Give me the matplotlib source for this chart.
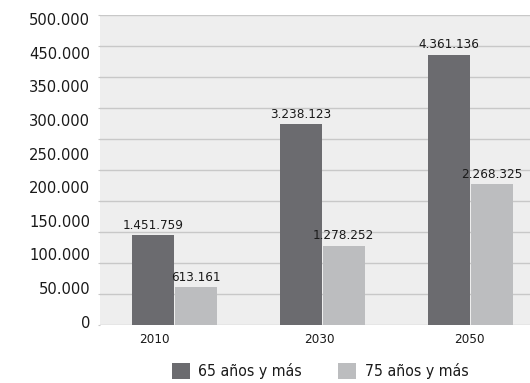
import matplotlib
matplotlib.use("Agg")
import matplotlib.pyplot as plt
import matplotlib.transforms as mtransforms
from matplotlib.patches import Patch
import numpy as np

# Population aged 65+ and 75+ by year
years = ["2010", "2030", "2050"]
pop_65 = [1451759, 3238123, 4361136]
pop_75 = [613161, 1278252, 2268325]
series_names = ["65 años y más", "75 años y más"]
ytick_labels = ["500.000", "450.000", "350.000", "300.000", "250.000",
                "200.000", "150.000", "100.000", "50.000", "0"]

DARK = "#6b6b6f"
LIGHT = "#bcbdbf"
BG = "#eeeeee"
GRID = "#c8c8c8"
TXT = "#1a1a1a"

cond = dict(family="DejaVu Sans", stretch="condensed")

fig = plt.figure(figsize=(5.30, 3.83), dpi=100)
ax = fig.add_axes([100 / 530, 58 / 383, 444 / 530, 310 / 383])
ax.set_facecolor(BG)

x = np.arange(len(years))
w = 0.284
b65 = ax.bar(x - 0.141, pop_65, width=w, color=DARK, zorder=3)
b75 = ax.bar(x + 0.147, pop_75, width=w, color=LIGHT, zorder=3)

ax.set_xlim(-0.5, len(years) - 0.5)
ax.set_ylim(0, 5_000_000)

# horizontal grid
ax.set_yticks(np.arange(0, 5_000_001, 500_000))
ax.yaxis.grid(True, color=GRID, linewidth=1.0, zorder=0)
ax.tick_params(axis="y", length=1.6, color=GRID, labelleft=False)
for s in ax.spines.values():
    s.set_visible(False)

# value axis labels, evenly spread down the left side
pos = np.linspace(0.982, 0.006, len(ytick_labels))
for lab, p in zip(ytick_labels, pos):
    ax.text(-0.0225, p, lab, transform=ax.transAxes, ha="right", va="center",
            fontsize=10.6, color=TXT, family="DejaVu Sans")

# category labels
ax.set_xticks(x)
ax.set_xticklabels(years, fontsize=9.6, color=TXT, **cond)
ax.tick_params(axis="x", length=0, pad=6)
shifts = [-20, -3, -1]
for lab, dx in zip(ax.get_xticklabels(), shifts):
    lab.set_transform(lab.get_transform() +
                      mtransforms.ScaledTranslation(dx / 100, 0, fig.dpi_scale_trans))

# value labels above bars
def fmt(v):
    return f"{v:,}".replace(",", ".")

for bars, vals in ((b65, pop_65), (b75, pop_75)):
    for r, v in zip(bars, vals):
        ax.annotate(fmt(v), (r.get_x() + r.get_width() / 2, v),
                    xytext=(0, 4.5), textcoords="offset points",
                    ha="center", va="baseline", fontsize=9.6, color=TXT,
                    annotation_clip=False, **cond)

handles = [Patch(facecolor=DARK, edgecolor="none"),
           Patch(facecolor=LIGHT, edgecolor="none")]
fig.legend(handles, series_names, loc="center", bbox_to_anchor=(320 / 530, 1 - 371 / 383),
           ncol=2, frameon=False, handlelength=1.15, handleheight=1.2,
           handletextpad=0.55, columnspacing=2.3,
           prop=dict(size=11.3, **cond), labelcolor=TXT)

fig.savefig("out.png", dpi=100)
